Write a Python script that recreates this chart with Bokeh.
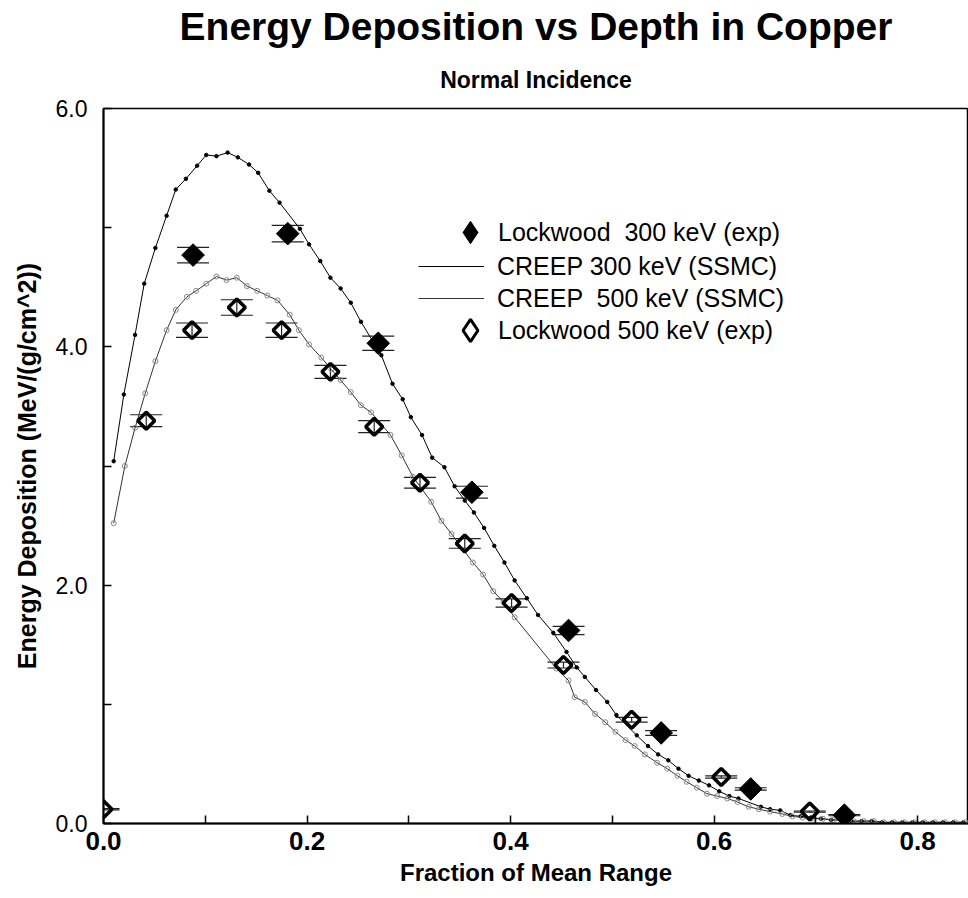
import math
from bokeh.plotting import figure
from bokeh.models import (Range1d, FixedTicker, PrintfTickFormatter, Whisker, TeeHead,
                          Legend, LegendItem, Title, ColumnDataSource)
from bokeh.embed import file_html
from bokeh.resources import INLINE

FONT = "Liberation Sans"

# Lockwood 300 keV (exp) - filled diamonds
lw300_x = [0.088, 0.181, 0.270, 0.362, 0.457, 0.548, 0.636, 0.728]
lw300_y = [4.77, 4.95, 4.03, 2.78, 1.62, 0.76, 0.29, 0.07]
lw300_err = [0.065, 0.07, 0.06, 0.05, 0.035, 0.02, 0.01, 0.005]

# Lockwood 500 keV (exp) - open diamonds
lw500_x = [0.000, 0.042, 0.087, 0.131, 0.175, 0.223, 0.266, 0.311, 0.355, 0.401,
           0.452, 0.519, 0.607, 0.694]
lw500_y = [0.12, 3.38, 4.14, 4.33, 4.14, 3.79, 3.33, 2.86, 2.35, 1.85,
           1.33, 0.87, 0.39, 0.10]
lw500_err = [0.005, 0.05, 0.06, 0.065, 0.06, 0.055, 0.05, 0.045, 0.04, 0.035,
             0.025, 0.02, 0.01, 0.005]

# CREEP 300 keV (SSMC)
creep300_x = [0.010, 0.020, 0.031, 0.040, 0.051, 0.062, 0.071, 0.081, 0.092, 0.101,
              0.111, 0.122, 0.132, 0.143, 0.152, 0.163, 0.173, 0.193, 0.202, 0.213,
              0.223, 0.233, 0.243, 0.253, 0.273, 0.284, 0.294, 0.302, 0.313, 0.323,
              0.335, 0.345, 0.355, 0.364, 0.374, 0.384, 0.394, 0.404, 0.416, 0.427,
              0.442, 0.455, 0.465, 0.473, 0.484, 0.495, 0.504, 0.524, 0.535, 0.545,
              0.555, 0.565, 0.575, 0.585, 0.595, 0.605, 0.615, 0.624, 0.646, 0.655,
              0.665, 0.675, 0.685, 0.695, 0.705, 0.715, 0.725, 0.735, 0.745, 0.755,
              0.765, 0.775, 0.785, 0.795, 0.805, 0.815, 0.825, 0.835, 0.845]
creep300_y = [3.04, 3.60, 4.10, 4.53, 4.83, 5.10, 5.32, 5.41, 5.52, 5.61,
              5.60, 5.63, 5.59, 5.53, 5.46, 5.31, 5.21, 4.99, 4.86, 4.72,
              4.58, 4.49, 4.37, 4.21, 3.93, 3.69, 3.56, 3.41, 3.26, 3.07,
              2.99, 2.83, 2.71, 2.61, 2.48, 2.33, 2.19, 2.04, 1.89, 1.75,
              1.60, 1.44, 1.31, 1.23, 1.12, 1.02, 0.91, 0.74, 0.65, 0.58,
              0.53, 0.46, 0.40, 0.36, 0.32, 0.27, 0.23, 0.21, 0.14, 0.12,
              0.11, 0.07, 0.06, 0.05, 0.04, 0.03, 0.03, 0.02, 0.02, 0.02,
              0.01, 0.01, 0.01, 0.01, 0.01, 0.01, 0.01, 0.01, 0.01]

# CREEP 500 keV (SSMC)
creep500_x = [0.010, 0.021, 0.031, 0.041, 0.051, 0.062, 0.071, 0.082, 0.091, 0.101,
              0.111, 0.121, 0.131, 0.141, 0.151, 0.161, 0.171, 0.183, 0.192, 0.202,
              0.214, 0.224, 0.233, 0.243, 0.253, 0.263, 0.282, 0.293, 0.304, 0.322,
              0.332, 0.342, 0.363, 0.373, 0.383, 0.393, 0.404, 0.445, 0.457, 0.463,
              0.473, 0.483, 0.493, 0.503, 0.513, 0.522, 0.532, 0.544, 0.554, 0.564,
              0.573, 0.583, 0.593, 0.603, 0.613, 0.623, 0.634, 0.644, 0.655, 0.667,
              0.677, 0.687, 0.697, 0.707, 0.717, 0.727, 0.737, 0.747, 0.757, 0.767,
              0.777, 0.787, 0.797, 0.807, 0.817, 0.827, 0.837, 0.847]
creep500_y = [2.52, 3.00, 3.32, 3.61, 3.88, 4.14, 4.31, 4.42, 4.47, 4.53,
              4.59, 4.56, 4.58, 4.51, 4.47, 4.43, 4.39, 4.27, 4.14, 4.02,
              3.91, 3.81, 3.72, 3.62, 3.51, 3.45, 3.26, 3.09, 2.91, 2.70,
              2.54, 2.43, 2.19, 2.09, 1.95, 1.86, 1.73, 1.30, 1.20, 1.06,
              1.02, 0.92, 0.85, 0.77, 0.70, 0.65, 0.58, 0.51, 0.46, 0.40,
              0.35, 0.30, 0.25, 0.23, 0.21, 0.18, 0.14, 0.12, 0.10, 0.08,
              0.06, 0.05, 0.04, 0.04, 0.03, 0.03, 0.02, 0.02, 0.02, 0.01,
              0.01, 0.01, 0.01, 0.01, 0.01, 0.01, 0.01, 0.01]

x_ticks = [0, 0.2, 0.4, 0.6, 0.8]
x_minor = [0.1, 0.3, 0.5, 0.7]
y_ticks = [0, 2, 4, 6]
y_minor = [1, 3, 5]

title_text = "Energy Deposition vs Depth in Copper"
subtitle_text = "Normal Incidence"
x_label = "Fraction of Mean Range"
y_label = "Energy Deposition (MeV/(g/cm^2))"
labels = ["Lockwood  300 keV (exp)", "CREEP 300 keV (SSMC)",
          "CREEP  500 keV (SSMC)", "Lockwood 500 keV (exp)"]

src300 = ColumnDataSource(dict(
    x=lw300_x, y=lw300_y,
    lo=[v - e for v, e in zip(lw300_y, lw300_err)],
    hi=[v + e for v, e in zip(lw300_y, lw300_err)]))
src500 = ColumnDataSource(dict(
    x=lw500_x, y=lw500_y,
    lo=[v - e for v, e in zip(lw500_y, lw500_err)],
    hi=[v + e for v, e in zip(lw500_y, lw500_err)]))

p = figure(width=968, height=898, x_range=Range1d(0, 0.85), y_range=Range1d(0, 6.0),
           output_backend="svg", toolbar_location=None,
           min_border_left=103, min_border_right=0, min_border_top=108,
           min_border_bottom=75, background_fill_color="white",
           border_fill_color="white")
p.grid.grid_line_color = None
p.outline_line_color = "black"
p.outline_line_width = 1.5

p.title.text = title_text
p.title.align = "center"
p.title.text_font = FONT
p.title.text_font_size = "39px"
p.title.text_font_style = "bold"
p.title.text_color = "black"
p.title.standoff = 1
p.add_layout(Title(text=subtitle_text, align="center", text_font=FONT,
                   text_font_size="23px", text_font_style="bold", text_color="black",
                   standoff=32), "above")

# axes
for ax in (p.xaxis[0], p.yaxis[0]):
    ax.axis_line_width = 2
    ax.major_tick_in = 8
    ax.major_tick_out = 0
    ax.minor_tick_in = 8
    ax.minor_tick_out = 0
    ax.major_tick_line_width = 1.5
    ax.minor_tick_line_width = 1.5
    ax.major_label_text_font = FONT
    ax.major_label_text_color = "black"
    ax.axis_label_text_font = FONT
    ax.axis_label_text_font_style = "bold"
    ax.axis_label_text_color = "black"
    ax.formatter = PrintfTickFormatter(format="%.1f")

p.xaxis.ticker = FixedTicker(ticks=x_ticks, minor_ticks=x_minor)
p.yaxis.ticker = FixedTicker(ticks=y_ticks, minor_ticks=y_minor)
p.xaxis.major_label_text_font_size = "26px"
p.xaxis.major_label_text_font_style = "bold"
p.xaxis.major_label_standoff = 8
p.xaxis.axis_label = x_label
p.xaxis.axis_label_text_font_size = "24px"
p.xaxis.axis_label_standoff = 6
p.yaxis.major_label_text_font_size = "23px"
p.yaxis.major_label_standoff = 16
p.yaxis.axis_label = y_label
p.yaxis.axis_label_text_font_size = "25px"
p.yaxis.axis_label_standoff = 12

# curves
l300 = p.line(creep300_x, creep300_y, line_color="black", line_width=1)
p.scatter(creep300_x, creep300_y, marker="circle", size=3.5, color="black")
l500 = p.line(creep500_x, creep500_y, line_color="#333333", line_width=1)
p.scatter(creep500_x, creep500_y, marker="circle", size=5, fill_color=None,
          line_color="#888888", line_width=1)

# error bars
for src in (src300, src500):
    p.add_layout(Whisker(source=src, base="x", lower="lo", upper="hi", dimension="height",
                         line_color="#222222", line_width=1.2,
                         upper_head=TeeHead(size=32, line_color="#222222", line_width=1.2),
                         lower_head=TeeHead(size=32, line_color="#222222", line_width=1.2)))

m300 = p.scatter("x", "y", source=src300, marker="square", angle=math.pi / 4, size=16,
                 fill_color="black", line_color="black")
m500 = p.scatter("x", "y", source=src500, marker="square", angle=math.pi / 4, size=12,
                 fill_color=None, line_color="black", line_width=3.5)

# hidden diamond-keyed renderers for the legend keys
k300 = p.scatter("x", "y", source=src300, marker="diamond", fill_color="black",
                 line_color="black", visible=False)
k500 = p.scatter("x", "y", source=src500, marker="diamond", fill_color=None,
                 line_color="black", line_width=3, visible=False)

def make_legend(items, loc, gw, gh, standoff):
    leg = Legend(items=items, location=loc, glyph_width=gw, glyph_height=gh,
                 label_height=gh, label_standoff=standoff, spacing=0, padding=0, margin=0,
                 border_line_color=None, background_fill_alpha=0,
                 inactive_fill_alpha=0, click_policy="none",
                 label_text_font=FONT, label_text_font_size="25px",
                 label_text_color="black")
    p.add_layout(leg)

make_legend([LegendItem(label=labels[0], renderers=[k300])], (339, 563), 56, 56, 0)
make_legend([LegendItem(label=labels[1], renderers=[l300]),
             LegendItem(label=labels[2], renderers=[l500])], (315, 509), 66, 32, 13)
make_legend([LegendItem(label=labels[3], renderers=[k500])], (339, 465), 56, 56, 0)

open("out.html", "w").write(file_html(p, INLINE))
